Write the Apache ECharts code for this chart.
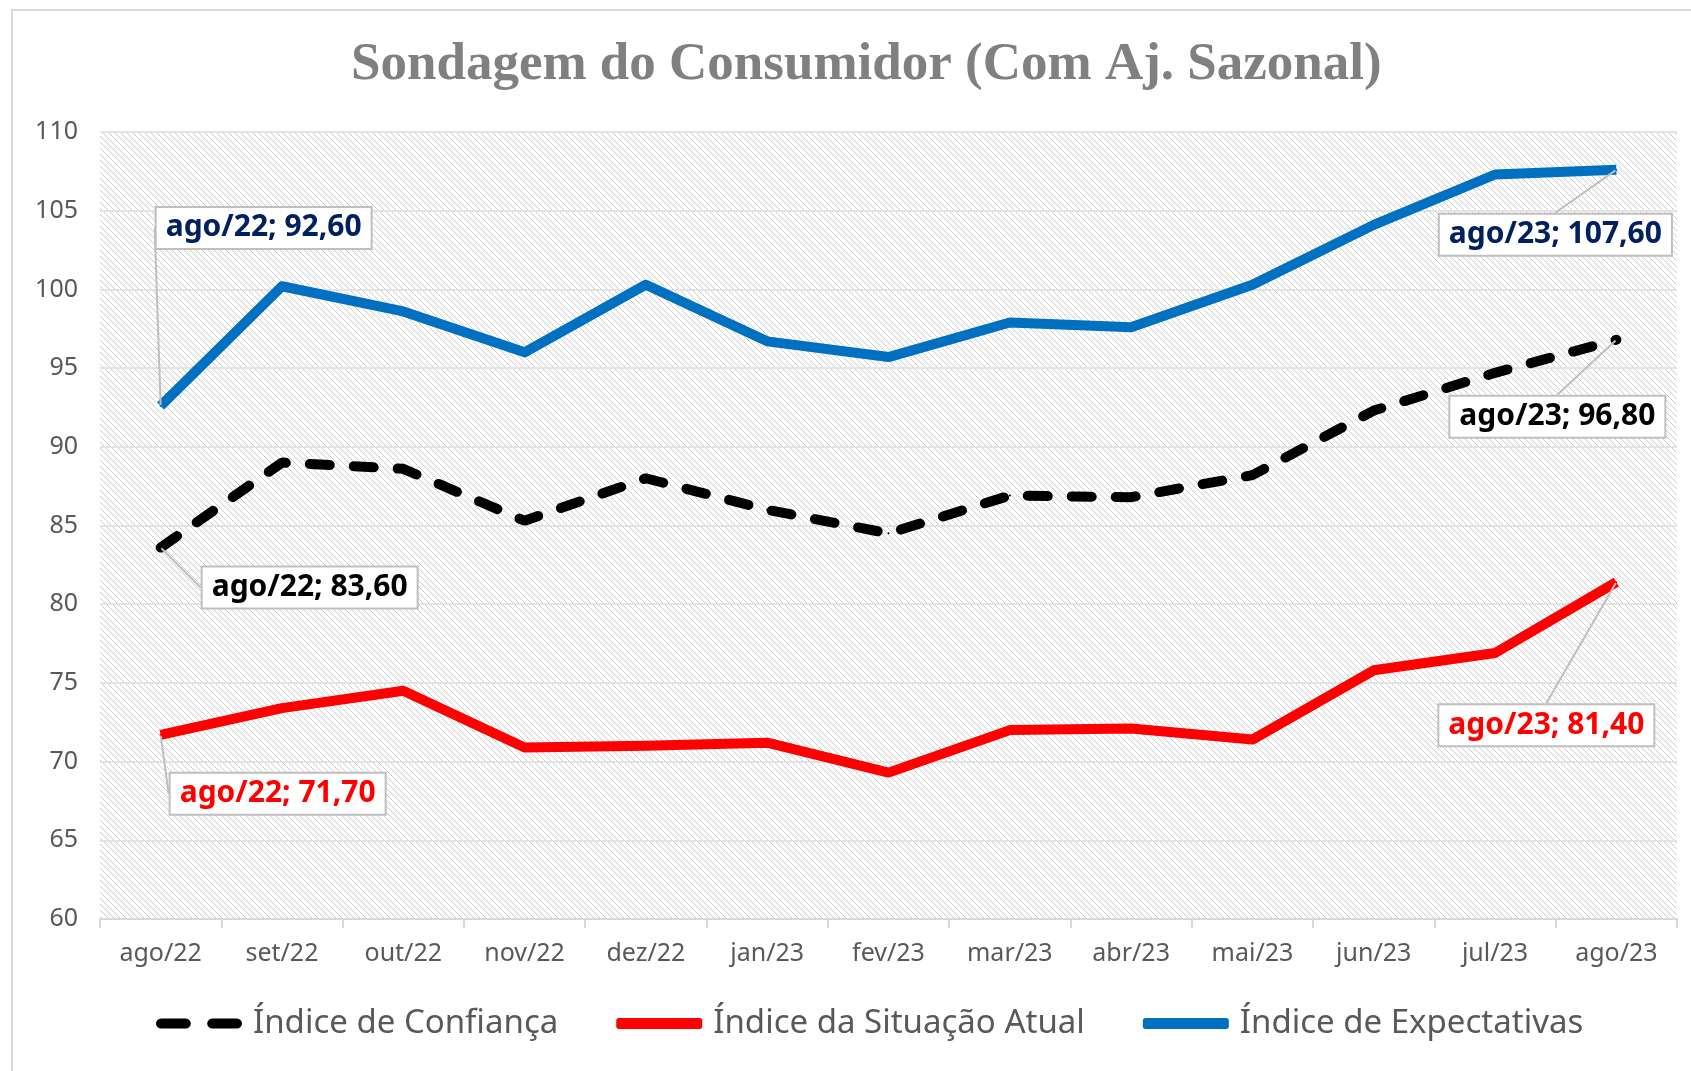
<!DOCTYPE html>
<html>
<head>
<meta charset="utf-8">
<script src="https://cdn.jsdelivr.net/npm/echarts@6/dist/echarts.min.js"></script>
<style>
  html, body { margin: 0; padding: 0; background: #fff; }
  #frame {
    position: absolute; left: 11px; top: 9px; width: 1700px; height: 1100px;
    border: 2px solid #d9d9d9; box-sizing: border-box;
  }
  #chart { position: absolute; left: 0; top: 0; width: 1691px; height: 1071px; }
</style>
</head>
<body>
<div id="frame"></div>
<div id="chart"></div>
<script>
const months = ['ago/22', 'set/22', 'out/22', 'nov/22', 'dez/22', 'jan/23', 'fev/23',
  'mar/23', 'abr/23', 'mai/23', 'jun/23', 'jul/23', 'ago/23'];
const confianca = [83.6, 89.0, 88.6, 85.3, 88.0, 86.0, 84.5, 86.9, 86.8, 88.2, 92.3, 94.7, 96.8];
const situacao = [71.7, 73.4, 74.5, 70.9, 71.0, 71.2, 69.3, 72.0, 72.1, 71.4, 75.8, 76.9, 81.4];
const expectativas = [92.6, 100.2, 98.6, 96.0, 100.3, 96.7, 95.7, 97.9, 97.6, 100.3, 104.1, 107.3, 107.6];

const labelFont = '"Noto Sans", sans-serif';

// hatched background for the plot area
function hatch () {
  const c = document.createElement('canvas');
  c.width = 6; c.height = 6;
  const g = c.getContext('2d');
  g.fillStyle = '#ffffff';
  g.fillRect(0, 0, 6, 6);
  g.strokeStyle = '#cccccc';
  g.lineWidth = 1;
  g.beginPath();
  g.moveTo(-1, -1); g.lineTo(7, 7);
  g.moveTo(-4, 2); g.lineTo(4, 10);
  g.moveTo(2, -4); g.lineTo(10, 4);
  g.stroke();
  return c;
}

function withLabels (values, textColor) {
  const last = values.length - 1;
  return values.map((v, i) => {
    if (i !== 0 && i !== last) return v;
    return {
      value: v,
      label: {
        show: true,
        position: 'inside',
        formatter: months[i] + '; ' + v.toFixed(2).replace('.', ','),
        color: textColor,
        fontFamily: labelFont,
        fontWeight: 'bold',
        fontSize: 30,
        backgroundColor: '#fff',
        borderColor: '#bfbfbf',
        borderWidth: 2,
        padding: [6, 9, 4, 9]
      }
    };
  });
}

function layoutFor (offsets) {
  return function (params) {
    const o = offsets[params.dataIndex];
    return o ? { dx: o[0], dy: o[1] } : {};
  };
}

const dashIcon = 'path://M5,0 H29 A5,5 0 0 1 29,10 H5 A5,5 0 0 1 5,0 Z M55,0 H79 A5,5 0 0 1 79,10 H55 A5,5 0 0 1 55,0 Z';

const chart = echarts.init(document.getElementById('chart'));
chart.setOption({
  animation: false,
  title: {
    text: 'Sondagem do Consumidor (Com Aj. Sazonal)',
    left: 346,
    top: 34,
    textStyle: {
      fontFamily: '"Liberation Serif", serif',
      fontWeight: 'bold',
      fontSize: 53,
      color: '#808080'
    }
  },
  grid: {
    left: 100, right: 14, top: 132, bottom: 152,
    show: true,
    borderWidth: 0,
    backgroundColor: { image: hatch(), repeat: 'repeat' }
  },
  legend: {
    bottom: 26,
    left: 151,
    itemWidth: 86,
    itemHeight: 11,
    itemGap: 58,
    textStyle: { fontFamily: labelFont, fontSize: 33, color: '#595959', padding: [0, 0, 0, 6] },
    data: [
      { name: 'Índice de Confiança', icon: dashIcon, itemStyle: { color: '#000000' } },
      { name: 'Índice da Situação Atual', icon: 'roundRect', itemStyle: { color: '#ff0000' } },
      { name: 'Índice de Expectativas', icon: 'roundRect', itemStyle: { color: '#0070c0' } }
    ]
  },
  xAxis: {
    type: 'category',
    data: months,
    axisLine: { lineStyle: { color: '#d9d9d9', width: 2 } },
    axisTick: { show: true, length: 9, lineStyle: { color: '#d9d9d9', width: 2 } },
    axisLabel: { color: '#595959', fontFamily: labelFont, fontSize: 25, margin: 22 }
  },
  yAxis: {
    type: 'value',
    min: 60, max: 110, interval: 5,
    axisLine: { show: false },
    axisTick: { show: false },
    splitLine: { lineStyle: { color: '#e3e3e3', width: 2 } },
    axisLabel: { color: '#595959', fontFamily: labelFont, fontSize: 25, margin: 22 }
  },
  series: [
    {
      name: 'Índice de Confiança',
      type: 'line',
      data: withLabels(confianca, '#000000'),
      symbol: 'circle', symbolSize: 2,
      itemStyle: { color: '#000000' },
      lineStyle: { color: '#000000', width: 10, type: [20, 24], cap: 'round' },
      labelLine: { show: true, lineStyle: { color: '#bfbfbf', width: 2 } },
      labelLayout: layoutFor({ 0: [149, 40], 12: [-59, 77] }),
      z: 3
    },
    {
      name: 'Índice da Situação Atual',
      type: 'line',
      data: withLabels(situacao, '#ff0000'),
      symbol: 'circle', symbolSize: 2,
      itemStyle: { color: '#ff0000' },
      lineStyle: { color: '#ff0000', width: 10, join: 'round' },
      labelLine: { show: true, lineStyle: { color: '#bfbfbf', width: 2 } },
      labelLayout: layoutFor({ 0: [117, 59], 12: [-70, 143] }),
      z: 2
    },
    {
      name: 'Índice de Expectativas',
      type: 'line',
      data: withLabels(expectativas, '#002060'),
      symbol: 'circle', symbolSize: 2,
      itemStyle: { color: '#0070c0' },
      lineStyle: { color: '#0070c0', width: 10, join: 'round' },
      labelLine: { show: true, lineStyle: { color: '#bfbfbf', width: 2 } },
      labelLayout: layoutFor({ 0: [103, -178], 12: [-61, 65] }),
      z: 2
    }
  ]
});
</script>
</body>
</html>
